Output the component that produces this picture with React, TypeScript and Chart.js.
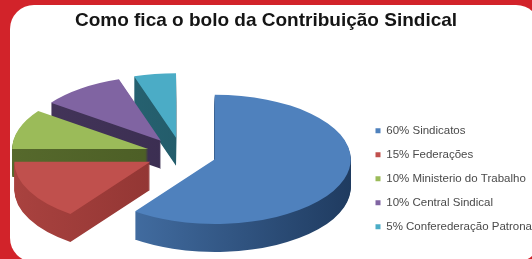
import React, { useEffect, useRef } from "react";
import { Chart, registerables } from "chart.js";

Chart.register(...registerables);

const TITLE = "Como fica o bolo da Contribuição Sindical";
const labels = [
  "60% Sindicatos",
  "15% Federações",
  "10% Ministerio do Trabalho",
  "10% Central Sindical",
  "5% Conferederação Patronal",
];
const values = [60, 15, 10, 10, 5];
const topColors = ["#4f81bd", "#c0504d", "#9bbb59", "#8064a2", "#4bacc6"];
const sideColorsA = ["#4a78b0", "#a9423f", "#56692c", "#44355a", "#2a6a7a"];
const sideColorsB = ["#1f3b60", "#7d2b29", "#435420", "#33284a", "#1d4f5c"];

// 3D look (styling only)
const SQUASH = 0.475;
const DEPTH = 28;
const EXPLODE = 35;

const pie3d = {
  id: "pie3d",
  beforeDatasetsDraw(chart: any) {
    const ctx = chart.ctx as CanvasRenderingContext2D;
    const meta = chart.getDatasetMeta(0);
    const arcs = meta.data as any[];
    const order = arcs
      .map((el, i) => {
        const h = (el.startAngle + el.endAngle) / 2;
        const key = Math.sin(h) * (EXPLODE + el.outerRadius * 0.5);
        return { el, i, h, key };
      })
      .sort((a, b) => a.key - b.key);
    for (const { el, i, h } of order) {
      const ox = Math.cos(h) * EXPLODE;
      const oy = Math.sin(h) * EXPLODE;
      const saved = el.options;
      const grad = ctx.createLinearGradient(el.x - el.outerRadius, 0, el.x + el.outerRadius, 0);
      grad.addColorStop(0, sideColorsA[i]);
      grad.addColorStop(1, sideColorsB[i]);
      el.options = Object.assign({}, saved, { backgroundColor: grad, borderWidth: 0 });
      for (let d = DEPTH; d >= 1; d--) {
        ctx.save();
        ctx.translate(el.x, el.y + d);
        ctx.scale(1, SQUASH);
        ctx.translate(-el.x + ox, -el.y + oy);
        el.draw(ctx);
        ctx.restore();
      }
      el.options = Object.assign({}, saved, { borderWidth: 0 });
      ctx.save();
      ctx.translate(el.x, el.y);
      ctx.scale(1, SQUASH);
      ctx.translate(-el.x + ox, -el.y + oy);
      el.draw(ctx);
      ctx.restore();
      el.options = saved;
    }
    return false;
  },
};

export default function App() {
  const ref = useRef<HTMLCanvasElement | null>(null);
  useEffect(() => {
    if (!ref.current) return;
    const chart = new Chart(ref.current, {
      type: "pie",
      data: {
        labels,
        datasets: [
          {
            data: values,
            backgroundColor: topColors,
            borderWidth: 0,
          },
        ],
      },
      options: {
        animation: false,
        responsive: false,
        devicePixelRatio: 1,
        radius: 136,
        layout: { padding: { left: 0, right: 0, top: 0, bottom: 14 } },
        plugins: {
          title: {
            display: true,
            text: TITLE,
            color: "#151515",
            font: { family: "'Liberation Sans', Arial, sans-serif", size: 19, weight: "bold" },
            padding: { top: 9, bottom: 31.6 },
          },
          legend: {
            position: "right",
            align: "end",
            maxWidth: 169,
            labels: {
              boxWidth: 5,
              boxHeight: 5,
              padding: 12.5,
              color: "#4a4a4a",
              font: { family: "'Liberation Sans', Arial, sans-serif", size: 11.5 },
            },
          },
          tooltip: { enabled: false },
        },
      } as any,
      plugins: [pie3d],
    });
    return () => chart.destroy();
  }, []);

  return (
    <div
      style={{
        position: "fixed",
        left: 0,
        top: 0,
        width: 532,
        height: 259,
        overflow: "hidden",
        background: "#d2232a",
      }}
    >
      <div
        style={{
          position: "absolute",
          left: 10,
          top: 5,
          width: 530,
          height: 257,
          borderRadius: 24,
          background: "#ffffff",
        }}
      />
      <canvas
        ref={ref}
        width={532}
        height={259}
        style={{ position: "absolute", left: 0, top: 0, width: 532, height: 259 }}
      />
    </div>
  );
}
